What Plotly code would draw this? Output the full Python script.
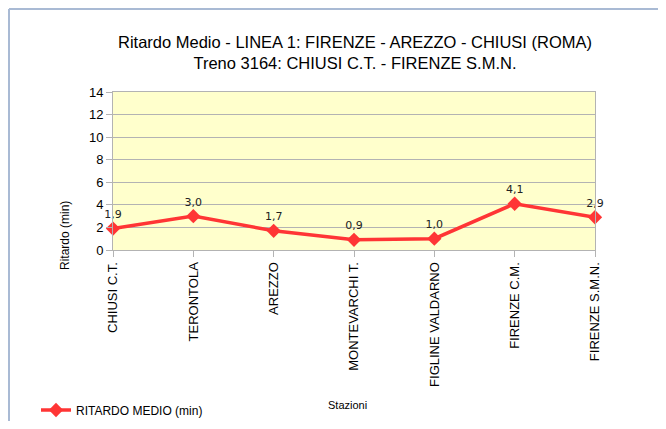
import plotly.graph_objects as go

stations = ["CHIUSI C.T.", "TERONTOLA", "AREZZO", "MONTEVARCHI T.",
            "FIGLINE VALDARNO", "FIRENZE C.M.", "FIRENZE S.M.N."]
delays = [1.9, 3.0, 1.7, 0.9, 1.0, 4.1, 2.9]
delay_labels = ["1,9", "3,0", "1,7", "0,9", "1,0", "4,1", "2,9"]
y_ticks = [0, 2, 4, 6, 8, 10, 12, 14]

OFF = 8  # page body margin
W, H = 666 - 2 * OFF, 429 - 2 * OFF
# target plot area in window pixels: x 113..595, y 92..250
L = 113 - OFF
T = 92 - OFF
R = W - (595 - OFF)
B = H - (250 - OFF)
pw, ph = W - L - R, H - T - B

def px(x):
    return (x - OFF - L) / pw

def py(y):
    return 1 - (y - OFF - T) / ph

fig = go.Figure()
fig.add_trace(go.Scatter(
    x=list(range(len(stations))), y=delays,
    mode="lines+markers+text",
    name="RITARDO MEDIO (min)",
    line=dict(color="#ff3535", width=3.5),
    marker=dict(symbol="diamond", size=11, color="#ff3535"),
    text=delay_labels, textposition="top center",
    textfont=dict(family="DejaVu Sans", size=11, color="#222222"),
    cliponaxis=False,
))

fig.update_layout(
    width=W, height=H,
    margin=dict(l=L, r=R, t=T, b=B, autoexpand=False),
    paper_bgcolor="white",
    plot_bgcolor="#ffffcc",
    font=dict(family="Liberation Sans", color="#000000"),
    showlegend=True,
    legend=dict(x=px(36), y=py(410), xanchor="left", yanchor="middle",
                font=dict(size=12, family="Liberation Sans"),
                bgcolor="rgba(0,0,0,0)", itemwidth=30),
    xaxis=dict(
        tickmode="array", tickvals=list(range(len(stations))), ticktext=stations,
        range=[0, len(stations) - 1], tickangle=-90, automargin=False,
        showgrid=False, zeroline=False,
        showline=True, linecolor="#b3b3b3", linewidth=1, mirror=True,
        ticks="outside", ticklen=6, tickcolor="#b3b3b3",
        tickfont=dict(size=13, family="Liberation Sans"),
    ),
    yaxis=dict(
        range=[0, 14], tickvals=y_ticks, automargin=False,
        showgrid=True, gridcolor="#b3b3b3", gridwidth=1, zeroline=False,
        showline=True, linecolor="#b3b3b3", linewidth=1, mirror=True,
        ticks="outside", ticklen=6, tickcolor="#b3b3b3",
        tickfont=dict(size=13, family="Liberation Sans"),
    ),
    annotations=[
        dict(text="Ritardo Medio - LINEA 1: FIRENZE - AREZZO - CHIUSI (ROMA)<br>Treno 3164: CHIUSI C.T. - FIRENZE S.M.N.",
             xref="paper", yref="paper", x=px(355), y=py(52), xanchor="center", yanchor="middle",
             showarrow=False, font=dict(size=16.5, family="Liberation Sans")),
        dict(text="Ritardo (min)", xref="paper", yref="paper", x=px(65), y=py(236),
             xanchor="center", yanchor="middle", textangle=-90, showarrow=False,
             font=dict(size=12, family="Liberation Sans")),
        dict(text="Stazioni", xref="paper", yref="paper", x=px(347), y=py(405),
             xanchor="center", yanchor="middle", showarrow=False,
             font=dict(size=11, family="Liberation Sans")),
    ],
    shapes=[
        dict(type="line", xref="paper", yref="paper", x0=px(9), x1=px(9), y0=py(9), y1=py(440),
             line=dict(color="#a9bad4", width=2)),
        dict(type="line", xref="paper", yref="paper", x0=px(9), x1=px(680), y0=py(9), y1=py(9),
             line=dict(color="#a9bad4", width=2)),
    ],
)

fig.write_html("out.html")
